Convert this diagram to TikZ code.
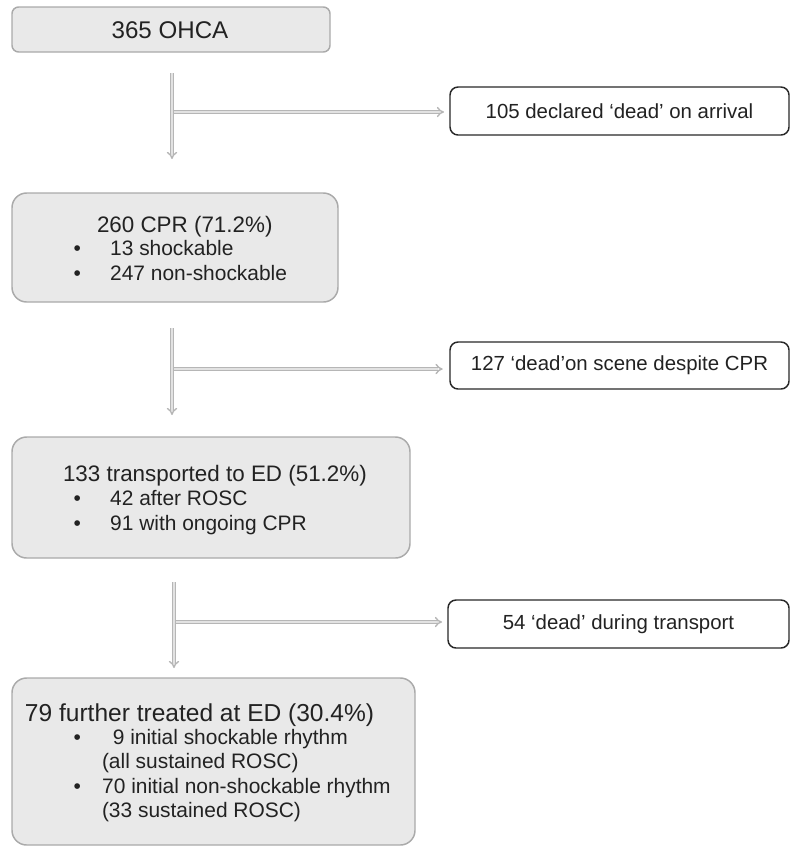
\documentclass[tikz,border=0pt]{standalone}
\usepackage{fontspec}
\setmainfont{Liberation Sans}
\usetikzlibrary{arrows.meta}

\definecolor{boxfill}{RGB}{233,233,233}
\definecolor{boxline}{RGB}{170,170,170}
\definecolor{sideline}{RGB}{40,40,40}
\definecolor{flowline}{RGB}{182,182,182}
\definecolor{flowinner}{RGB}{226,226,226}
\definecolor{ink}{RGB}{34,34,34}

\newcommand{\fsz}[1]{\fontsize{#1pt}{#1pt}\selectfont}
% bullet followed by a fixed indent
\newcommand{\bulA}{\makebox[27.5pt][l]{\textbullet}}
\newcommand{\bulB}{\makebox[21.5pt][l]{\textbullet}}

\tikzset{
  stagebox/.style={draw=boxline, fill=boxfill, line width=1.1pt,
    inner sep=0pt, outer sep=0pt},
  outbox/.style={draw=sideline, fill=white, line width=1.1pt,
    rounded corners=6pt, inner sep=0pt, outer sep=0pt,
    text=ink, font=\fsz{15.3}},
  txt/.style={inner sep=0pt, outer sep=0pt, text=ink, anchor=base west},
  flow/.style={draw=flowline, line width=1.05pt, double=flowinner,
    double distance=1.5pt, -{Implies}},
}

\begin{document}
\begin{tikzpicture}[x=0.75pt, y=-0.75pt]
  \useasboundingbox (0,0) rectangle (792,847);

  % main stages
  \node[stagebox, rounded corners=5pt, minimum width=238.5pt, minimum height=33.75pt]
    (s1) at (171,29.5) {};
  \node[stagebox, rounded corners=11pt, minimum width=244.5pt, minimum height=81.75pt]
    (s2) at (175,247.5) {};
  \node[stagebox, rounded corners=11pt, minimum width=298.5pt, minimum height=90.75pt]
    (s3) at (211,497.5) {};
  \node[stagebox, rounded corners=11pt, minimum width=302.25pt, minimum height=125.25pt]
    (s4) at (213.5,761.5) {};

  % texts of the stages
  \node[txt, anchor=center, font=\fsz{18.1}] (t1) at (170,30) {365 OHCA};

  \node[txt, font=\fsz{16.8}] (t2h) at (97,232) {260 CPR (71.2\%)};
  \node[txt, font=\fsz{15.7}] (t2a) at (73.5,255.5) {\bulA 13 shockable};
  \node[txt, font=\fsz{15.7}] (t2b) at (73.5,280.5) {\bulA 247 non-shockable};

  \node[txt, font=\fsz{16.8}] (t3h) at (63,481.5) {133 transported to ED (51.2\%)};
  \node[txt, font=\fsz{15.7}] (t3a) at (73.5,505.5) {\bulA 42 after ROSC};
  \node[txt, font=\fsz{15.7}] (t3b) at (73.5,530.5) {\bulA 91 with ongoing CPR};

  \node[txt, font=\fsz{18.4}] (t4h) at (25,721.5) {79 further treated at ED (30.4\%)};
  \node[txt, font=\fsz{15.7}] (t4a) at (73.5,744.5) {\bulB\hspace{8pt}9 initial shockable rhythm};
  \node[txt, font=\fsz{15.7}] (t4b) at (102,768.5) {(all sustained ROSC)};
  \node[txt, font=\fsz{15.7}] (t4c) at (73.5,793.5) {\bulB 70 initial non-shockable rhythm};
  \node[txt, font=\fsz{15.7}] (t4d) at (102,817.5) {(33 sustained ROSC)};

  % exits
  \node[outbox, minimum width=254.25pt, minimum height=36pt]
    (o1) at (619.5,111) {105 declared ‘dead’ on arrival};
  \node[outbox, minimum width=254.25pt, minimum height=35.25pt]
    (o2) at (619.5,365.5) {127 ‘dead’on scene despite CPR};
  \node[outbox, minimum width=255.75pt, minimum height=36pt]
    (o3) at (618.5,624) {54 ‘dead’ during transport};

  % flow arrows with side branches
  \coordinate (a1) at (172,73);  \coordinate (j1) at (172,112); \coordinate (b1) at (172,159);
  \coordinate (a2) at (172,328); \coordinate (j2) at (172,369); \coordinate (b2) at (172,415);
  \coordinate (a3) at (174,582); \coordinate (j3) at (174,622); \coordinate (b3) at (174,668);

  \draw[flow, shorten >=4.5pt] (j1) -- (j1 -| o1.west);
  \draw[flow] (a1) -- (b1);
  \draw[flow, shorten >=5.5pt] (j2) -- (j2 -| o2.west);
  \draw[flow] (a2) -- (b2);
  \draw[flow, shorten >=4.5pt] (j3) -- (j3 -| o3.west);
  \draw[flow] (a3) -- (b3);
\end{tikzpicture}
\end{document}
